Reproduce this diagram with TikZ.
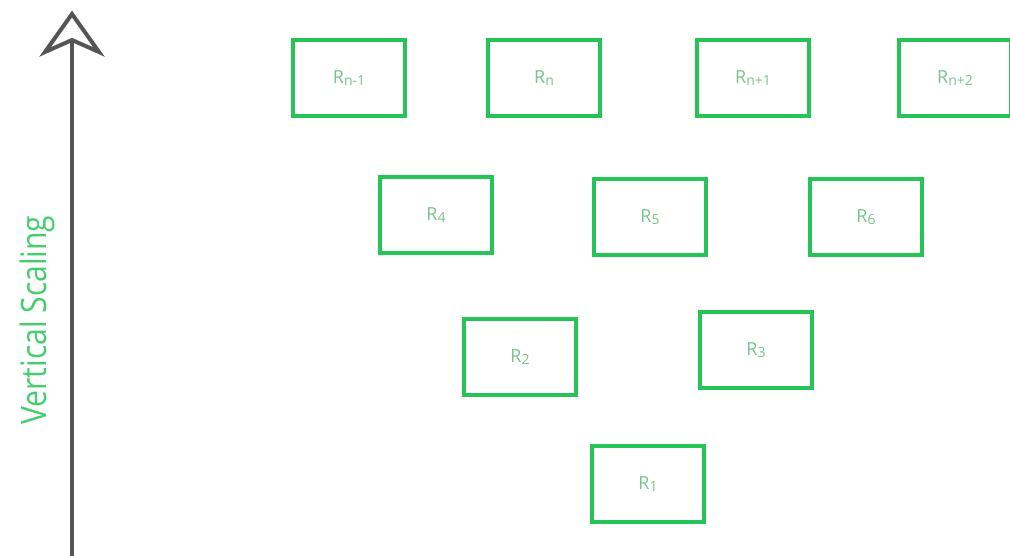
\documentclass[tikz,border=0pt]{standalone}
\usepackage{fontspec}
\setmainfont{Open Sans}
\newcommand{\rsub}[1]{{\fontsize{14}{14}\selectfont\raisebox{-1.5pt}{#1}}}
\begin{document}
\begin{tikzpicture}[x=1pt,y=-1pt,
  rbox/.style={draw=boxgreen, line width=4pt, minimum width=112pt, minimum height=76pt,
    inner sep=0pt, text=labgreen, font=\fontsize{18}{18}\selectfont},
  axisline/.style={draw=axisgray, line width=4pt}]
\definecolor{boxgreen}{RGB}{38,196,86}
\definecolor{labgreen}{RGB}{120,196,140}
\definecolor{vgreen}{RGB}{70,206,110}
\definecolor{axisgray}{RGB}{85,85,85}
\useasboundingbox (0,0) rectangle (1010,556);
\clip (0,0) rectangle (1010,556);
% row 1
\node[rbox] (rn1) at (349,78) {R\rsub{n-1}};
\node[rbox] (rn)  at (544,78) {R\rsub{n}};
\node[rbox] (rnp1) at (753,78) {R\rsub{n+1}};
\node[rbox] (rnp2) at (955,78) {R\rsub{n+2}};
% row 2
\node[rbox] (r4) at (436,215) {R\rsub{4}};
\node[rbox] (r5) at (650,217) {R\rsub{5}};
\node[rbox] (r6) at (866,217) {R\rsub{6}};
% row 3
\node[rbox] (r2) at (520,357) {R\rsub{2}};
\node[rbox] (r3) at (756,350) {R\rsub{3}};
% row 4
\node[rbox] (r1) at (648,484) {R\rsub{1}};
% axis
\coordinate (abot) at (72,560);
\coordinate (atop) at (72,40);
\coordinate (tip) at (72,14);
\coordinate (lw) at (45,52);
\coordinate (rw) at (99,52);
\coordinate (notch) at (72,40);
\draw[axisline] (abot) -- (atop);
\draw[axisline, line width=4pt, line join=miter] (lw) -- (tip) -- (rw) -- (notch) -- cycle;
% label
\node[rotate=90, text=vgreen, inner sep=0pt] (vlab) at (37,320)
  {\scalebox{0.86}[1]{\fontsize{35}{35}\selectfont Vertical Scaling}};
\end{tikzpicture}
\end{document}
